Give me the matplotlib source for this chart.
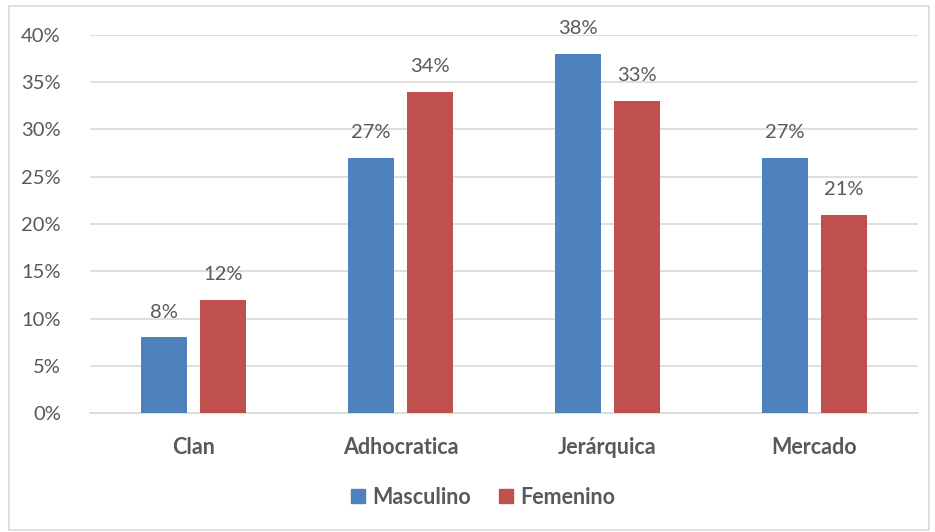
import matplotlib
matplotlib.use("Agg")
import matplotlib.pyplot as plt
import numpy as np
from matplotlib.patches import Rectangle

categories = ["Clan", "Adhocratica", "Jerárquica", "Mercado"]
masculino = [8, 27, 38, 27]
femenino = [12, 34, 33, 21]
series_names = ["Masculino", "Femenino"]
colors = ["#4F81BD", "#C0504D"]

plt.rcParams['font.family'] = ['Lato', 'DejaVu Sans']
txt = "#595959"

fig = plt.figure(figsize=(9.35, 5.32), dpi=100)
fig.patches.append(Rectangle((9/935, 2/532), 920/935, 524/532, transform=fig.transFigure,
                             fill=False, edgecolor="#D9D9D9", linewidth=1.2))
ax = fig.add_axes([90/935, 1-413/532, 828/935, 378/532])

x = np.arange(len(categories))
w = 0.222
off = 0.1425
for vals, sign, c in [(masculino, -1, colors[0]), (femenino, 1, colors[1])]:
    ax.bar(x + sign*off, vals, width=w, color=c, zorder=3)
    for xi, v in zip(x + sign*off, vals):
        ax.annotate(f"{v}%", (xi, v), xytext=(0, 12), textcoords="offset points",
                    ha="center", va="bottom", fontsize=14.5, color=txt)

ax.set_xlim(-0.5, 3.5)
ax.set_ylim(0, 40)
ax.set_yticks(range(0, 41, 5))
ax.set_yticklabels([f"{t}%" for t in range(0, 41, 5)], fontsize=14.5, color=txt)
ax.set_xticks(x)
ax.set_xticklabels(categories, fontsize=15.5, fontweight="bold", color=txt)
ax.tick_params(axis="both", length=0)
ax.tick_params(axis="y", pad=21)
ax.tick_params(axis="x", pad=17)
ax.yaxis.grid(True, color="#D9D9D9", linewidth=1.2, zorder=0)
for s in ["top", "right", "left"]:
    ax.spines[s].set_visible(False)
ax.spines["bottom"].set_color("#D9D9D9")
ax.spines["bottom"].set_linewidth(1.2)

handles = [Rectangle((0, 0), 1, 1, color=c) for c in colors]
fig.legend(handles, series_names, loc="center", bbox_to_anchor=(483/935, 1-497/532),
           ncol=2, frameon=False, prop={"size": 15.5, "weight": "bold"},
           labelcolor=txt, handlelength=0.65, handleheight=0.65, handletextpad=0.35,
           columnspacing=1.3)

fig.savefig("out.png", dpi=100)
